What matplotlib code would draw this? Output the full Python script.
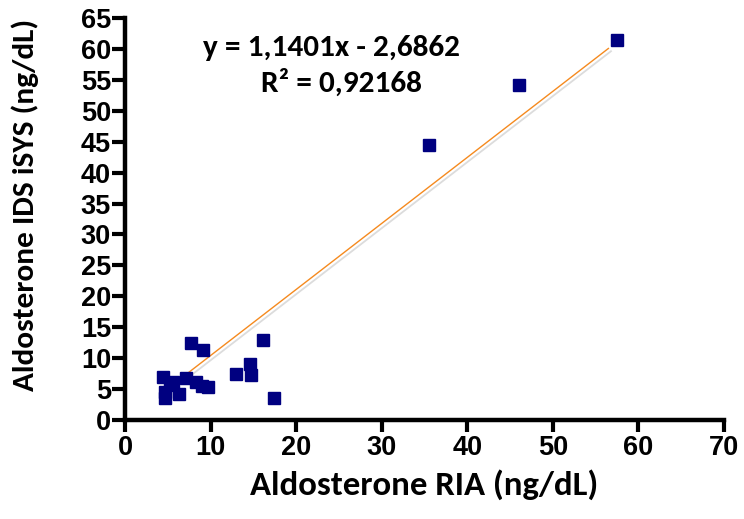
import matplotlib
matplotlib.use("Agg")
from matplotlib import pyplot as plt

# values
ria = [57.5, 46.0, 35.5, 7.7, 9.1, 16.1, 4.4, 7.1, 8.3, 9.0, 9.7, 13.0, 14.6, 14.7,
       17.4, 6.3, 4.7, 4.7, 5.3, 5.6]
isys = [61.4, 54.2, 44.4, 12.4, 11.3, 13.0, 7.0, 6.7, 6.1, 5.5, 5.3, 7.5, 9.1, 7.3,
        3.6, 4.2, 3.6, 4.5, 5.6, 6.1]
# trendline as drawn in the reference (ends)
trend_x = [5.5, 56.5]
trend_y = [5.6, 60.1]
eq_text = "y = 1,1401x - 2,6862"
r2_text = "R² = 0,92168"

x_ticks = list(range(0, 71, 10))
y_ticks = list(range(0, 66, 5))

plt.rcParams["font.family"] = ["Liberation Sans", "DejaVu Sans"]
plt.rcParams["font.weight"] = "bold"
plt.rcParams["xtick.labelsize"] = 19.5
plt.rcParams["ytick.labelsize"] = 19.5
label_font = ["Carlito", "Lato", "DejaVu Sans"]

fig = plt.figure(figsize=(7.44, 5.19), dpi=100)
ax = fig.add_axes([0.168, 0.191, 0.805, 0.774])

# trendline with the faint grey shadow
ax.plot([x + 0.3 for x in trend_x], [y - 0.45 for y in trend_y], color="#dcdcdc", lw=1.3, zorder=1)
ax.plot(trend_x, trend_y, color="#f58a1f", lw=1.0, zorder=2)

ax.plot(ria, isys, "s", color="#000080", markersize=9, zorder=3)

ax.set_xlim(0, 70)
ax.set_ylim(0, 65)
ax.set_xticks(x_ticks)
ax.set_yticks(y_ticks)

for s in ["top", "right"]:
    ax.spines[s].set_visible(False)
for s in ["left", "bottom"]:
    ax.spines[s].set_linewidth(3.2)
ax.tick_params(axis="x", width=3, length=8.5, direction="out", pad=2.5)
ax.tick_params(axis="y", width=3, length=9.5, direction="out", pad=0.5)

ax.set_xlabel("Aldosterone RIA (ng/dL)", family=label_font, fontweight="bold",
              fontsize=25, labelpad=6)
ax.set_ylabel("Aldosterone IDS iSYS (ng/dL)", family=label_font, fontweight="bold",
              fontsize=22.5)
ax.yaxis.set_label_coords(-0.144, 0.535)

ax.text(24.1, 60.1, eq_text, family=label_font, fontweight="bold", fontsize=22.5,
        ha="center", va="center")
ax.text(25.3, 54.6, r2_text, family=label_font, fontweight="bold", fontsize=22.5,
        ha="center", va="center")

fig.savefig("out.png", dpi=100)
